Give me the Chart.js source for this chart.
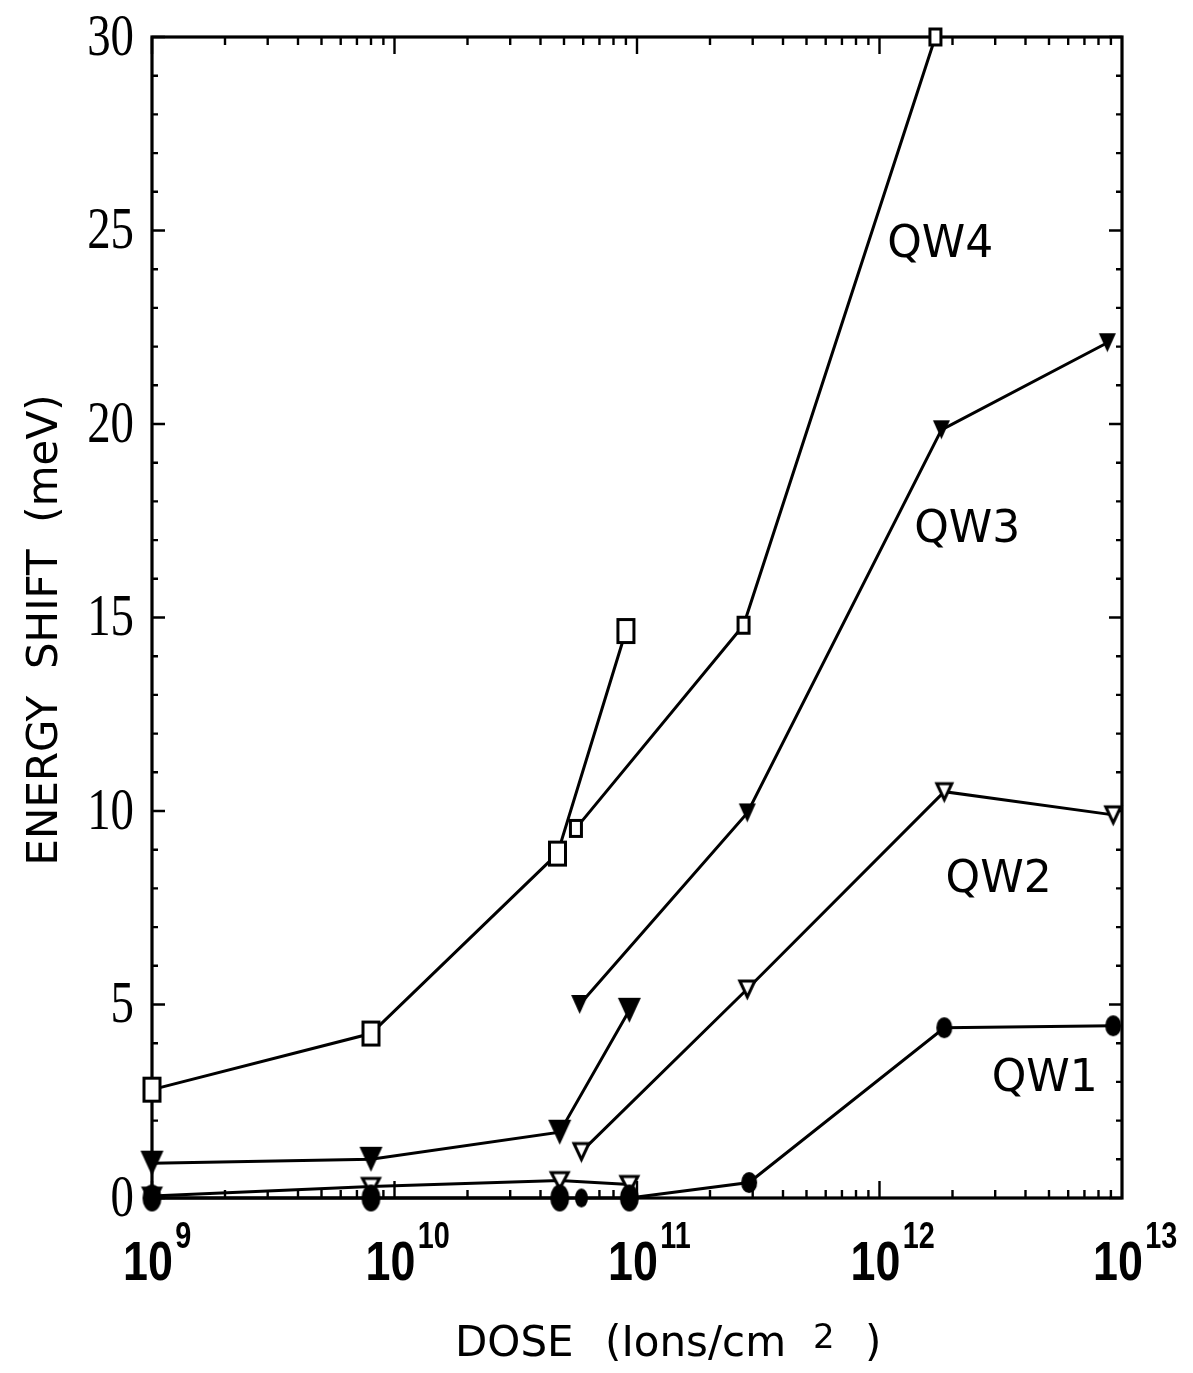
<!DOCTYPE html>
<html>
<head>
<meta charset="utf-8">
<script src="https://cdn.jsdelivr.net/npm/chart.js@4.4.1/dist/chart.umd.min.js"></script>
<style>
  html, body { margin: 0; padding: 0; background: #fff; }
  #wrap { width: 1193px; height: 1373px; }
</style>
</head>
<body>
<div id="wrap"><canvas id="c" width="1193" height="1373"></canvas></div>
<script>
// ---- data ----
const xTickExponents = [9, 10, 11, 12, 13];
const yTickLabels = [0, 5, 10, 15, 20, 25, 30];

// QW4 (open squares)
const qw4aDose = [1e9, 8e9, 4.7e10, 9.0e10];
const qw4aShift = [2.8, 4.25, 8.9, 14.65];
const qw4bDose = [5.6e10, 2.75e11, 1.7e12];
const qw4bShift = [9.55, 14.8, 30.0];

// QW3 (filled down triangles)
const qw3aDose = [1e9, 8e9, 4.8e10, 9.3e10];
const qw3aShift = [0.9, 1.0, 1.7, 4.85];
const qw3bDose = [5.8e10, 2.85e11, 1.8e12, 8.7e12];
const qw3bShift = [5.0, 9.95, 19.85, 22.1];

// QW2 (open down triangles)
const qw2aDose = [1e9, 8e9, 4.8e10, 9.3e10];
const qw2aShift = [0.05, 0.3, 0.45, 0.35];
const qw2bDose = [5.9e10, 2.85e11, 1.85e12, 9.2e12];
const qw2bShift = [1.2, 5.4, 10.5, 9.9];

// QW1 (filled circles)
const qw1Dose = [1e9, 8e9, 4.8e10, 5.9e10, 9.3e10, 2.9e11, 1.85e12, 9.2e12];
const qw1Shift = [0, 0, 0, 0, 0, 0.4, 4.4, 4.45];

const seriesNames = ['QW4', 'QW3', 'QW2', 'QW1'];

// ---- marker images ----
function marker(kind, w, h) {
  const pad = 3;
  const c = document.createElement('canvas');
  c.width = w + pad * 2; c.height = h + pad * 2;
  const g = c.getContext('2d');
  g.translate(pad, pad);
  g.strokeStyle = '#000'; g.fillStyle = '#000'; g.lineWidth = 3;
  if (kind === 'rect') {
    g.fillStyle = '#fff';
    g.fillRect(1.5, 1.5, w - 3, h - 3);
    g.strokeRect(1.5, 1.5, w - 3, h - 3);
  } else if (kind === 'tri' || kind === 'otri') {
    g.beginPath();
    g.moveTo(1, 1); g.lineTo(w - 1, 1); g.lineTo(w / 2, h - 1); g.closePath();
    if (kind === 'tri') { g.fill(); }
    else { g.fillStyle = '#fff'; g.fill(); g.stroke(); }
  } else if (kind === 'dot') {
    g.beginPath();
    g.ellipse(w / 2, h / 2, w / 2, h / 2, 0, 0, Math.PI * 2);
    g.fill();
  }
  return c;
}
const mBigRect = marker('rect', 19, 26);
const mSmallRect = marker('rect', 14, 19);
const mBigTri = marker('tri', 25, 27);
const mSmallTri = marker('tri', 19, 21);
const mBigOTri = marker('otri', 19, 18);
const mSmallOTri = marker('otri', 17, 18);
const mBigDot = marker('dot', 19, 27);
const mSmallDot = marker('dot', 13, 19);
const mMidDot = marker('dot', 16, 21);

function pts(xs, ys) { return xs.map((v, i) => ({ x: v, y: ys[i] })); }
function ds(label, xs, ys, style) {
  return {
    label, data: pts(xs, ys), borderColor: '#000', borderWidth: 3,
    backgroundColor: '#000', pointStyle: style, pointRadius: 10,
    pointHoverRadius: 10, tension: 0, clip: false, fill: false
  };
}

const datasets = [
  ds('QW1', qw1Dose, qw1Shift, [mBigDot, mBigDot, mBigDot, mSmallDot, mBigDot, mMidDot, mMidDot, mMidDot]),
  ds('QW2', qw2aDose, qw2aShift, mBigOTri),
  ds('QW2', qw2bDose, qw2bShift, mSmallOTri),
  ds('QW3', qw3aDose, qw3aShift, mBigTri),
  ds('QW3', qw3bDose, qw3bShift, mSmallTri),
  ds('QW4', qw4aDose, qw4aShift, mBigRect),
  ds('QW4', qw4bDose, qw4bShift, mSmallRect)
];

const frame = {
  id: 'frame',
  beforeDatasetsDraw(chart) {
    const { ctx, chartArea: a, scales: { x, y } } = chart;
    ctx.save();
    ctx.strokeStyle = '#000';
    ctx.lineWidth = 3.2;
    ctx.strokeRect(a.left, a.top, a.right - a.left, a.bottom - a.top);
    ctx.lineWidth = 2.4;
    ctx.beginPath();
    for (let v = 0; v <= 30; v++) {
      const py = y.getPixelForValue(v);
      const len = v % 5 === 0 ? 13 : 6;
      ctx.moveTo(a.left, py); ctx.lineTo(a.left + len, py);
      ctx.moveTo(a.right, py); ctx.lineTo(a.right - len, py);
    }
    for (let e = 9; e <= 12; e++) {
      for (let m = 1; m <= 9; m++) {
        const px = x.getPixelForValue(m * Math.pow(10, e));
        const len = m === 1 ? 17 : 8;
        ctx.moveTo(px, a.bottom); ctx.lineTo(px, a.bottom - len);
        ctx.moveTo(px, a.top); ctx.lineTo(px, a.top + len);
      }
    }
    ctx.stroke();
    ctx.restore();
  },
  afterDraw(chart) {
    const { ctx, chartArea: a, scales: { x, y } } = chart;
    ctx.save();
    ctx.fillStyle = '#000';
    // y tick labels (condensed serif)
    ctx.font = '60px "Liberation Serif"';
    ctx.textAlign = 'right';
    ctx.textBaseline = 'middle';
    yTickLabels.forEach(v => {
      const py = y.getPixelForValue(v);
      ctx.save();
      ctx.translate(a.left - 18, py + 2);
      ctx.scale(0.78, 1);
      ctx.fillText(String(v), 0, 0);
      ctx.restore();
    });
    // x tick labels: 10^n
    xTickExponents.forEach(n => {
      const px = x.getPixelForValue(Math.pow(10, n));
      ctx.save();
      ctx.font = 'bold 56px "Liberation Sans"';
      ctx.textAlign = 'center';
      ctx.textBaseline = 'alphabetic';
      ctx.translate(px - 4, a.bottom + 82);
      ctx.scale(0.8, 1);
      const w = ctx.measureText('10').width;
      ctx.fillText('10', 0, 0);
      ctx.font = 'bold 36px "Liberation Sans"';
      ctx.textAlign = 'left';
      ctx.fillText(String(n), w / 2 + 3, -32);
      ctx.restore();
    });
    // axis titles
    ctx.font = '42px "DejaVu Sans"';
    ctx.textBaseline = 'alphabetic';
    ctx.textAlign = 'left';
    const bx = a.left + 303, by = a.bottom + 158;
    ctx.fillText('DOSE', bx, by);
    ctx.fillText('(Ions/cm', bx + 150, by);
    ctx.font = '34px "DejaVu Sans"';
    ctx.fillText('2', bx + 358, by - 8);
    ctx.font = '42px "DejaVu Sans"';
    ctx.fillText(')', bx + 410, by);

    ctx.save();
    ctx.translate(57, 630);
    ctx.rotate(-Math.PI / 2);
    ctx.textAlign = 'center';
    ctx.fillText('ENERGY  SHIFT  (meV)', 0, 0);
    ctx.restore();

    // series labels
    ctx.font = '44px "DejaVu Sans"';
    ctx.textAlign = 'center';
    ctx.textBaseline = 'middle';
    const labelPos = { QW4: [1.78e12, 24.6], QW3: [2.3e12, 17.25], QW2: [3.1e12, 8.2], QW1: [4.8e12, 3.05] };
    seriesNames.forEach(s => {
      const p = labelPos[s];
      ctx.fillText(s, x.getPixelForValue(p[0]), y.getPixelForValue(p[1]));
    });
    ctx.restore();
  }
};

new Chart(document.getElementById('c'), {
  type: 'line',
  data: { datasets },
  options: {
    responsive: false,
    animation: false,
    events: [],
    layout: { padding: { left: 152, right: 71, top: 37, bottom: 175 } },
    plugins: { legend: { display: false }, tooltip: { enabled: false } },
    scales: {
      x: {
        type: 'logarithmic', min: 1e9, max: 1e13,
        ticks: { display: false }, grid: { display: false, drawTicks: false },
        border: { display: false }, title: { display: false }
      },
      y: {
        type: 'linear', min: 0, max: 30,
        ticks: { display: false }, grid: { display: false, drawTicks: false },
        border: { display: false }, title: { display: false }
      }
    }
  },
  plugins: [frame]
});
</script>
</body>
</html>
